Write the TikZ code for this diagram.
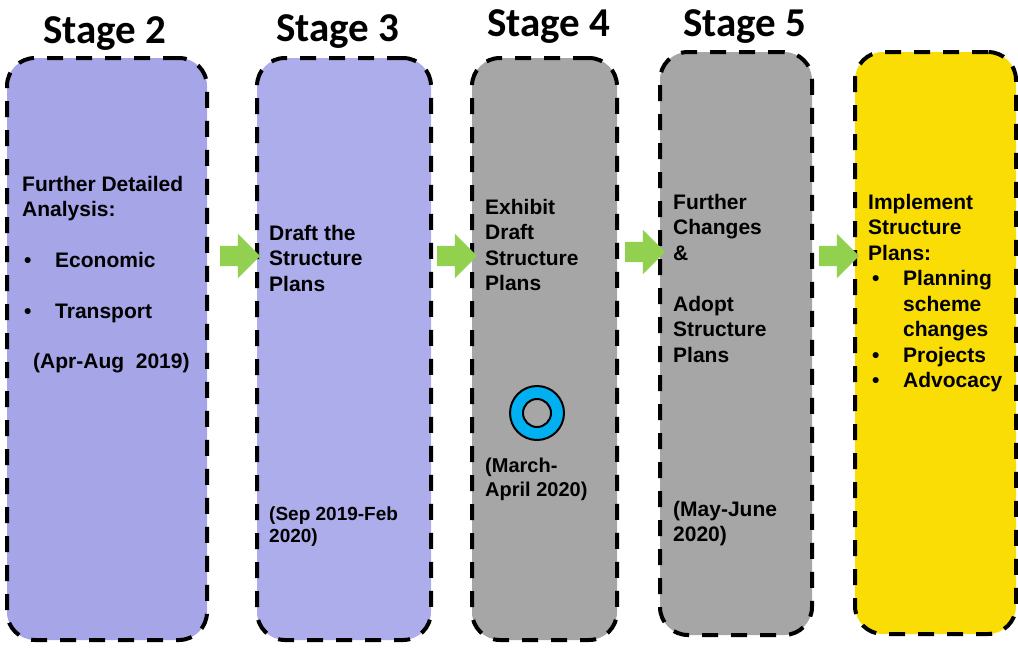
\documentclass[tikz,border=0pt]{standalone}
\usepackage{fontspec}
\setmainfont{Liberation Sans}
\newfontfamily\stagefont{Carlito}
\usetikzlibrary{shapes.arrows}

\definecolor{lilacA}{RGB}{165,165,232}
\definecolor{lilacB}{RGB}{173,173,235}
\definecolor{stagegrey}{RGB}{166,166,166}
\definecolor{stageyellow}{RGB}{249,221,5}
\definecolor{arrowgreen}{RGB}{146,208,80}
\definecolor{ringblue}{RGB}{0,176,240}

\newcommand\bodysize{\fontsize{21}{25.5}\selectfont\bfseries}
\newcommand\bul{\makebox[31pt][l]{\textbullet}}

\begin{document}
\begin{tikzpicture}[x=1pt,y=-1pt]

      \useasboundingbox (0,0) rectangle (1018,649);

      % stage boxes
      \begin{scope}[every node/.style={draw=black, line width=4pt, dash pattern=on 16pt off 13pt,
                                       rounded corners=28pt, inner sep=0}]
        \node[fill=lilacA, minimum width=200pt, minimum height=582pt] (s2) at (107,349) {};
        \node[fill=lilacB, minimum width=174pt, minimum height=582pt] (s3) at (344,349) {};
        \node[fill=stagegrey, minimum width=145pt, minimum height=582pt] (s4) at (544.5,349) {};
        \node[fill=stagegrey, minimum width=152pt, minimum height=583pt] (s5) at (736,343.5) {};
        \node[fill=stageyellow, minimum width=161pt, minimum height=582pt] (s6) at (935.5,343) {};
      \end{scope}

      % stage titles
      \begin{scope}[every node/.style={anchor=base, inner sep=0, font=\stagefont\bfseries\fontsize{41}{41}\selectfont}]
        \node (t2) at (105,43) {Stage 2};
        \node (t3) at (338,41) {Stage 3};
        \node (t4) at (549,36) {Stage 4};
        \node (t5) at (745,36) {Stage 5};
      \end{scope}

      % green arrows between the stages
      \begin{scope}[every node/.style={single arrow, fill=arrowgreen, draw=none,
                                       inner xsep=0, inner ysep=10pt,
                                       minimum height=40pt, minimum width=44pt,
                                       single arrow head extend=12pt}]
        \node (a23) at (235,256) {};
        \node (a34) at (452,256) {};
        \node (a45) at (640,252) {};
        \node (a56) at (834,256) {};
      \end{scope}

      % texts
      \begin{scope}[every node/.style={anchor=north west, inner sep=0, align=left, font=\bodysize}]
        \node (l2) at (22,176) {Further Detailed\\Analysis:};
        \node (b2) at (24,252) {\bul Economic\\[25.5pt]\bul Transport};
        \node (d2) at (33,353) {(Apr-Aug\ \ 2019)};
        \node (l3) at (269,225) {Draft the\\Structure\\Plans};
        \node[font=\fontsize{19}{22}\selectfont\bfseries] (d3) at (269,507) {(Sep 2019-Feb\\2020)};
        \node (l4) at (485,199) {Exhibit\\Draft\\Structure\\Plans};
        \node[font=\fontsize{20}{24}\selectfont\bfseries] (d4) at (485,458) {(March-\\April 2020)};
        \node (l5) at (673,194) {Further\\Changes\\\&\\[25.5pt]Adopt\\Structure\\Plans};
        \node[font=\fontsize{21}{25}\selectfont\bfseries] (d5) at (673,501) {(May-June\\2020)};
        \node (l6) at (868,194) {Implement\\Structure\\Plans:\\
          \hspace*{4pt}\bul Planning\\\hspace*{35pt}scheme\\\hspace*{35pt}changes\\
          \hspace*{4pt}\bul Projects\\\hspace*{4pt}\bul Advocacy};
      \end{scope}

      % ring in stage 4
      \node[circle, draw=black, line width=2pt, fill=ringblue, minimum size=54pt, inner sep=0] (ring) at (537,413) {};
      \node[circle, draw=black, line width=2pt, fill=stagegrey, minimum size=28pt, inner sep=0] (hole) at (ring.center) {};

    \end{tikzpicture}
\end{document}
